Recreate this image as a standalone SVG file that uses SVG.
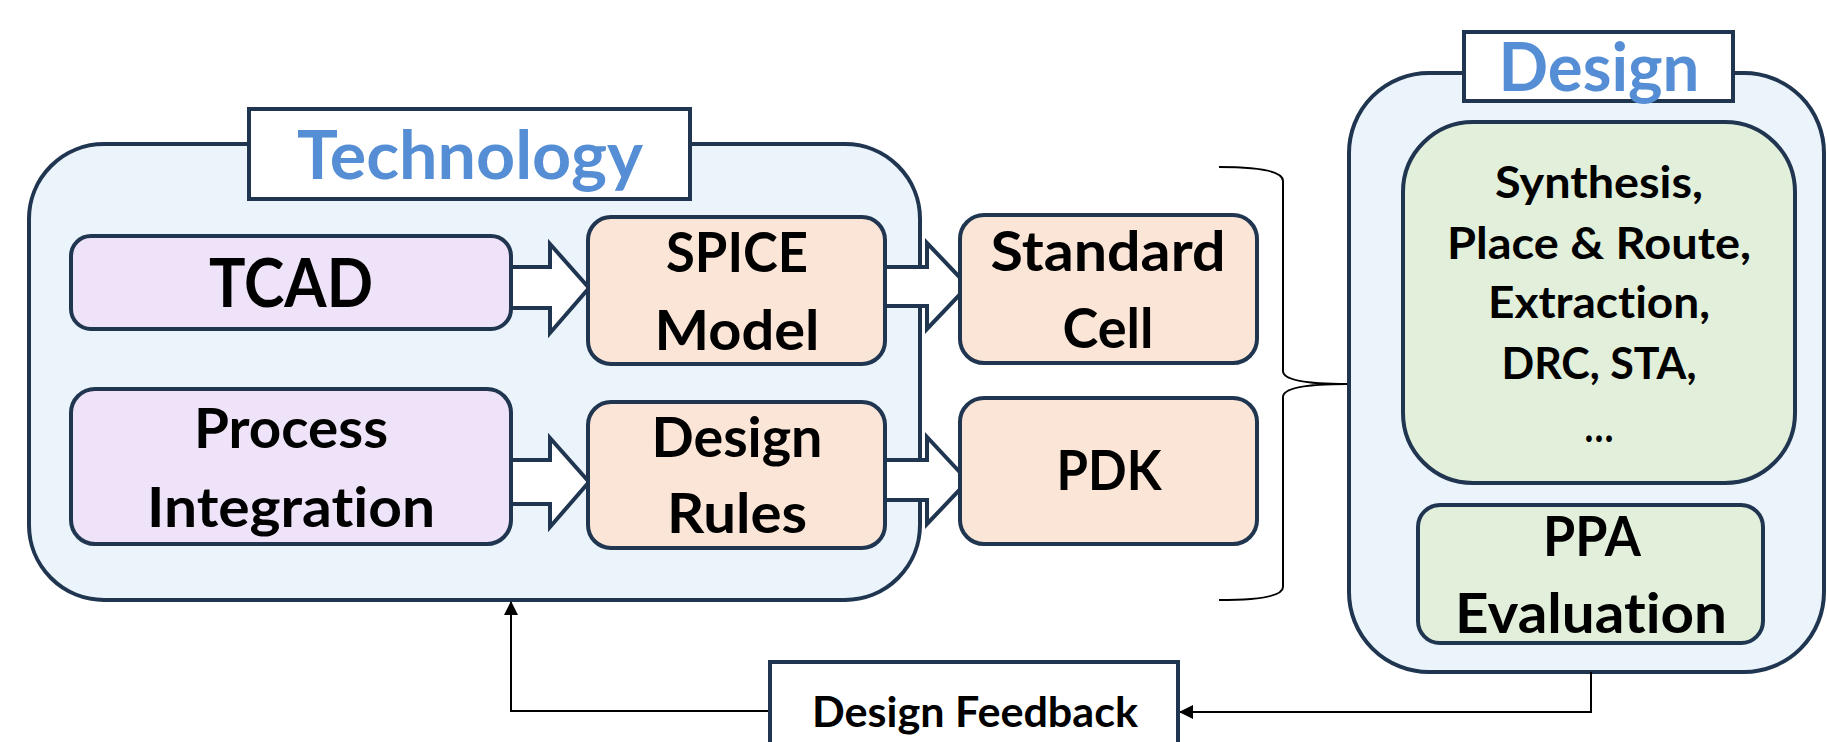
<svg xmlns="http://www.w3.org/2000/svg" width="1827" height="742" viewBox="0 0 1827 742">
<style>
.box{stroke:#1F3550;stroke-width:4}
.outer{fill:#EBF3FB}
.purple{fill:#EFE3F9}
.peach{fill:#FBE5D6}
.green{fill:#E2EFDA}
.label{fill:#FFFFFF}
.t{font-family:Lato,"Liberation Sans",sans-serif;font-weight:bold;fill:#000;text-anchor:middle;font-variant-ligatures:none}
.title{font-family:Lato,"Liberation Sans",sans-serif;font-weight:bold;fill:#558ED5;text-anchor:middle;font-size:67px;font-variant-ligatures:none}
.big{font-size:55px}
.mid{font-size:43px}
.blk{fill:#FFFFFF;stroke:#1F3550;stroke-width:4;stroke-linejoin:miter}
.line{fill:none;stroke:#000;stroke-width:2}
</style>
<defs>
<marker id="ah" viewBox="0 0 14 14" refX="13" refY="7" markerWidth="14" markerHeight="14" markerUnits="userSpaceOnUse" orient="auto">
<path d="M0,0 L14,7 L0,14 Z" fill="#000"/>
</marker>
</defs>

<g id="technology">
<rect class="box outer" x="29" y="144" width="891" height="456" rx="75" ry="75"/>
<rect class="box label" x="249" y="109" width="441" height="90"/>
<text class="title" x="470" y="179" textLength="346" lengthAdjust="spacingAndGlyphs">Technology</text>
</g>

<g id="design">
<rect class="box outer" x="1349" y="73" width="475" height="599" rx="80" ry="80"/>
<rect class="box label" x="1464" y="32" width="269" height="69"/>
<text class="title" x="1599" y="91" textLength="201" lengthAdjust="spacingAndGlyphs">Design</text>
</g>

<g id="connectors">
<polygon class="blk" points="505,267 550,267 550,244 589,288 550,333 550,308 505,308"/>
<polygon class="blk" points="505,460 550,460 550,438 589,482 550,527 550,504 505,504"/>
<polygon class="blk" points="880,267 927,267 927,243 968,286 927,329 927,306 880,306"/>
<polygon class="blk" points="880,460 927,460 927,437 968,481 927,524 927,500 880,500"/>
<path class="line" d="M1219,167 Q1283,167 1283,181 L1283,371 Q1283,384 1347,384 M1347,384 Q1283,384 1283,397 L1283,587 Q1283,600 1219,600"/>
<path class="line" d="M1591,672 L1591,712 L1180,712" marker-end="url(#ah)"/>
<path class="line" d="M770,711 L511,711 L511,602" marker-end="url(#ah)"/>
</g>

<g id="tcad">
<rect class="box purple" x="71" y="236" width="440" height="93" rx="20" ry="20"/>
<text class="t" x="291" y="307" font-size="66" textLength="164" lengthAdjust="spacingAndGlyphs">TCAD</text>
</g>

<g id="process">
<rect class="box purple" x="71" y="389" width="440" height="155" rx="24" ry="24"/>
<text class="t big" x="291" y="448" textLength="194" lengthAdjust="spacingAndGlyphs">Process</text>
<text class="t big" x="291" y="527" textLength="288" lengthAdjust="spacingAndGlyphs">Integration</text>
</g>

<g id="spice">
<rect class="box peach" x="588" y="217" width="297" height="147" rx="23" ry="23"/>
<text class="t big" x="737" y="272" textLength="142" lengthAdjust="spacingAndGlyphs">SPICE</text>
<text class="t big" x="737" y="350" textLength="165" lengthAdjust="spacingAndGlyphs">Model</text>
</g>

<g id="rules">
<rect class="box peach" x="588" y="402" width="297" height="146" rx="23" ry="23"/>
<text class="t big" x="737" y="457" textLength="171" lengthAdjust="spacingAndGlyphs">Design</text>
<text class="t big" x="737" y="533" textLength="140" lengthAdjust="spacingAndGlyphs">Rules</text>
</g>

<g id="stdcell">
<rect class="box peach" x="960" y="215" width="297" height="148" rx="24" ry="24"/>
<text class="t big" x="1108" y="271" textLength="235" lengthAdjust="spacingAndGlyphs">Standard</text>
<text class="t big" x="1108" y="348" textLength="91" lengthAdjust="spacingAndGlyphs">Cell</text>
</g>

<g id="pdk">
<rect class="box peach" x="960" y="398" width="297" height="146" rx="24" ry="24"/>
<text class="t big" x="1109" y="490" textLength="105" lengthAdjust="spacingAndGlyphs">PDK</text>
</g>

<g id="flow">
<rect class="box green" x="1403" y="122" width="392" height="361" rx="70" ry="70"/>
<text class="t mid" x="1599" y="198" textLength="208" lengthAdjust="spacingAndGlyphs">Synthesis,</text>
<text class="t mid" x="1599" y="259" textLength="304" lengthAdjust="spacingAndGlyphs">Place &amp; Route,</text>
<text class="t mid" x="1599" y="318" textLength="222" lengthAdjust="spacingAndGlyphs">Extraction,</text>
<text class="t mid" x="1599" y="379" textLength="195" lengthAdjust="spacingAndGlyphs">DRC, STA,</text>
<text class="t mid" x="1599" y="442" textLength="29" lengthAdjust="spacingAndGlyphs">…</text>
</g>

<g id="ppa">
<rect class="box green" x="1418" y="505" width="345" height="138" rx="22" ry="22"/>
<text class="t big" x="1592" y="556" textLength="98" lengthAdjust="spacingAndGlyphs">PPA</text>
<text class="t big" x="1591" y="633" textLength="272" lengthAdjust="spacingAndGlyphs">Evaluation</text>
</g>

<g id="feedback">
<rect class="box label" x="770" y="662" width="408" height="100"/>
<text class="t" x="975" y="727" font-size="42" textLength="326" lengthAdjust="spacingAndGlyphs">Design Feedback</text>
</g>
</svg>
